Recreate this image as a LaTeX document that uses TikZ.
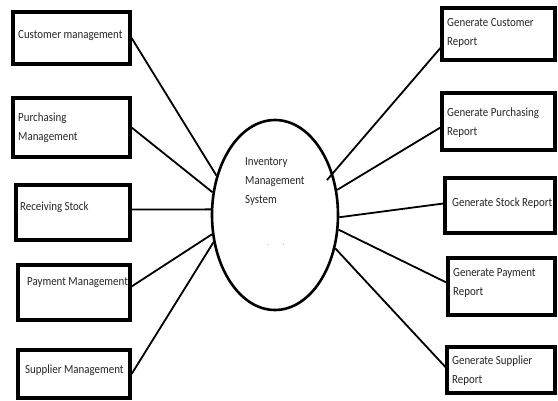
\documentclass[tikz,border=0pt]{standalone}
\usepackage{fontspec}
\setmainfont[FakeStretch=0.88]{Carlito}
\usetikzlibrary{shapes.geometric}
\begin{document}
\begin{tikzpicture}[x=1pt,y=-1pt,
  box/.style={draw=black, line width=3.2pt, rectangle, inner sep=0pt},
  txt/.style={text=black!85, font=\fontsize{12.4}{19}\selectfont, inner sep=0pt, align=left, anchor=west},
  link/.style={draw=black, line width=1.8pt}]
\useasboundingbox (0,0) rectangle (558,400);
% left boxes
\node[box, minimum width=117pt, minimum height=52pt] (L1) at (71.5,38) {};
\node[box, minimum width=117pt, minimum height=59pt] (L2) at (71.5,127.5) {};
\node[box, minimum width=114pt, minimum height=55pt] (L3) at (73,212.5) {};
\node[box, minimum width=112pt, minimum height=55pt] (L4) at (74,292.5) {};
\node[box, minimum width=112pt, minimum height=48pt] (L5) at (74,374) {};
\node[txt] (tL1) at (18,36) {Customer management};
\node[txt] (tL2) at (18,127.5) {Purchasing\\Management};
\node[txt] (tL3) at (20,207) {Receiving Stock};
\node[txt] (tL4) at (27,283) {Payment Management};
\node[txt] (tL5) at (25,370) {Supplier Management};
% right boxes
\node[box, minimum width=113pt, minimum height=52pt] (R1) at (498.5,34) {};
\node[box, minimum width=113pt, minimum height=57pt] (R2) at (498.5,121.5) {};
\node[box, minimum width=110pt, minimum height=55pt] (R3) at (500,205.5) {};
\node[box, minimum width=107pt, minimum height=57pt] (R4) at (501.5,286.5) {};
\node[box, minimum width=108pt, minimum height=46pt] (R5) at (501,370) {};
\node[txt] (tR1) at (447,33) {Generate Customer\\Report};
\node[txt] (tR2) at (447,123) {Generate Purchasing\\Report};
\node[txt] (tR3) at (452,203) {Generate Stock Report};
\node[txt] (tR4) at (453,283) {Generate Payment\\Report};
\node[txt] (tR5) at (452,371) {Generate Supplier\\Report};
% ellipse
\node[ellipse, draw=black, line width=2.6pt, minimum width=126pt, minimum height=190pt, inner sep=0pt] (E) at (275,215) {};
\node[txt] (tE) at (245,182) {Inventory\\Management\\System};
\node[text=black!50, font=\fontsize{8}{8}\selectfont, inner sep=0pt] (dots) at (276,245) {.\hspace{14pt}.};
\coordinate (Rin) at (327,180);
% connectors
\draw[link] (L1.east) -- (E.146);
\draw[link] (L2.east) -- (E.160);
\draw[link] ([yshift=3pt]L3.east) -- (E.175);
\draw[link] ([yshift=6pt]L4.east) -- (E.197);
\draw[link] (L5.east) -- (E.204);
\draw[link] ([yshift=-14pt]R1.west) -- (Rin);
\draw[link] ([yshift=-6pt]R2.west) -- (E.22);
\draw[link] ([yshift=2pt]R3.west) -- (E.-2);
\draw[link] ([yshift=4pt]R4.west) -- (E.-13);
\draw[link] ([yshift=3pt]R5.west) -- (E.-29);
\end{tikzpicture}
\end{document}
